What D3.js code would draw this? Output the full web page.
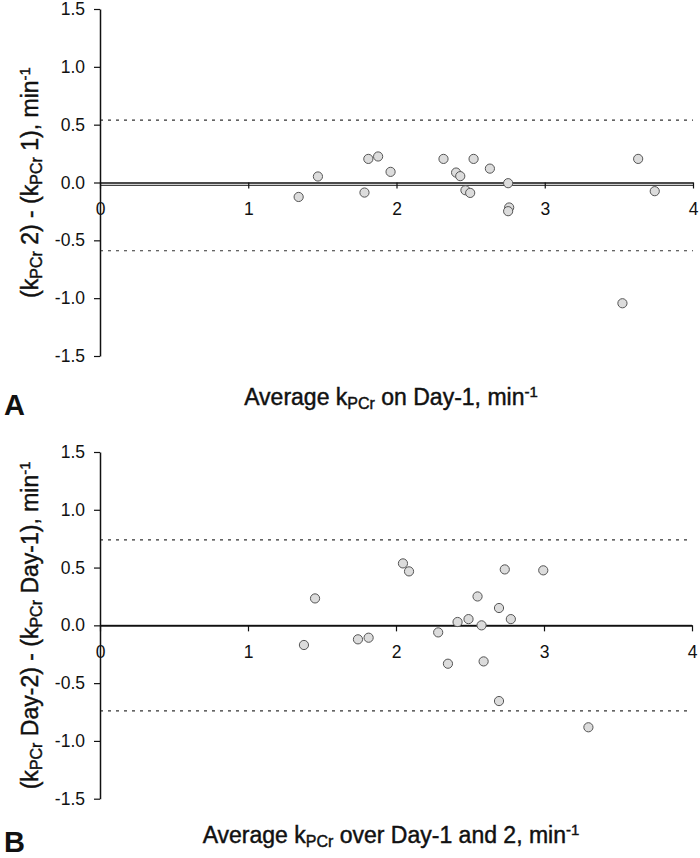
<!DOCTYPE html>
<html><head><meta charset="utf-8">
<script src="https://cdn.jsdelivr.net/npm/d3@7"></script>
<style>
html,body{margin:0;padding:0;background:#fff;}
svg{display:block;font-family:"Liberation Sans",Arial,sans-serif;}
</style></head>
<body>
<svg id="chart" width="700" height="858"></svg>
<script>
// ---- data ----
const xTicks = [0, 1, 2, 3, 4];
const yTicks = [-1.5, -1.0, -0.5, 0.0, 0.5, 1.0, 1.5];

// Panel A: average kPCr on Day-1 vs difference (kPCr 2 - kPCr 1)
const avgA  = [1.34, 1.47, 1.81, 1.876, 1.96, 1.784, 2.317, 2.402, 2.43, 2.52, 2.63, 2.465, 2.497, 2.753, 2.76, 2.753, 3.63, 3.742, 3.524];
const diffA = [-0.125, 0.052, 0.204, 0.225, 0.092, -0.087, 0.204, 0.086, 0.055, 0.204, 0.12, -0.067, -0.09, -0.006, -0.216, -0.248, 0.204, -0.075, -1.044];
const limitsA = [0.54, -0.59];
const meanA = -0.025;

// Panel B: average kPCr over Day-1 and 2 vs difference (Day-2 - Day-1)
const avgB  = [1.378, 1.453, 1.743, 1.815, 2.047, 2.088, 2.285, 2.351, 2.416, 2.49, 2.551, 2.578, 2.592, 2.696, 2.696, 2.735, 2.776, 2.995, 3.3];
const diffB = [-0.170, 0.233, -0.121, -0.107, 0.536, 0.467, -0.061, -0.332, 0.029, 0.054, 0.25, 0.0, -0.312, 0.150, -0.655, 0.484, 0.054, 0.476, -0.882];
const limitsB = [0.74, -0.74];
const meanB = 0.0;

const svg = d3.select("#chart");
const FONT = "Liberation Sans, Arial, sans-serif";

function addRich(textSel, parts) {
  parts.forEach(p => {
    const t = textSel.append("tspan").text(p.t);
    if (p.sub) t.attr("font-size", 16).attr("dy", 3.5);
    else if (p.sup) t.attr("font-size", 15).attr("dy", -8);
    if (p.back) t.attr("dy", p.back);
  });
}

function drawPanel(opt) {
  const x = d3.scaleLinear().domain([0, 4]).range([100, opt.right]);
  const y = d3.scaleLinear().domain([-1.5, 1.5]).range([opt.bottom, opt.top]);
  const g = svg.append("g");

  // limits of agreement (dotted)
  g.selectAll("line.loa").data(opt.limits).join("line")
    .attr("x1", x(0)).attr("x2", x(4))
    .attr("y1", d => y(d)).attr("y2", d => y(d))
    .attr("stroke", "#333").attr("stroke-width", 1.2)
    .attr("stroke-dasharray", "3,5");

  // mean difference line
  g.append("line")
    .attr("x1", x(0)).attr("x2", x(4))
    .attr("y1", y(opt.mean)).attr("y2", y(opt.mean))
    .attr("stroke", "#444").attr("stroke-width", 1.2);

  // y axis
  const yAxis = d3.axisLeft(y).tickValues(yTicks).tickFormat(d => d.toFixed(1))
    .tickSize(6).tickSizeOuter(0).tickPadding(9);
  const ya = g.append("g").attr("transform", `translate(${x(0)},0)`).call(yAxis);
  ya.select(".domain").attr("stroke", "#111").attr("stroke-width", 1.5);
  ya.selectAll(".tick line").attr("stroke", "#111").attr("stroke-width", 1.2);
  ya.selectAll(".tick text").attr("font-size", 17.5).attr("fill", "#111").attr("font-family", FONT);

  // x axis at y=0
  const xAxis = d3.axisBottom(x).tickValues(xTicks).tickFormat(d3.format("d"))
    .tickSize(6).tickSizeOuter(0).tickPadding(14.5);
  const xa = g.append("g").attr("transform", `translate(0,${y(0)})`).call(xAxis);
  xa.select(".domain").attr("stroke", "#111").attr("stroke-width", 1.6);
  xa.selectAll(".tick line").attr("stroke", "#111").attr("stroke-width", 1.2);
  xa.selectAll(".tick text").attr("font-size", 17.5).attr("fill", "#111").attr("font-family", FONT);

  // points
  g.selectAll("circle").data(opt.avg.map((v, i) => [v, opt.diff[i]])).join("circle")
    .attr("cx", d => x(d[0])).attr("cy", d => y(d[1])).attr("r", 4.6)
    .attr("fill", "#dcdcdc").attr("stroke", "#555").attr("stroke-width", 1);

  // y title
  const yt = g.append("text")
    .attr("transform", `translate(${opt.yTitleX},${y(0)}) rotate(-90)`)
    .attr("text-anchor", "middle").attr("font-size", 23)
    .attr("fill", "#111").attr("stroke", "#111").attr("stroke-width", 0.45);
  addRich(yt, opt.yTitle);

  // x title
  const xt = g.append("text")
    .attr("x", opt.xTitleX).attr("y", opt.xTitleY)
    .attr("text-anchor", "middle").attr("font-size", 23)
    .attr("fill", "#111").attr("stroke", "#111").attr("stroke-width", 0.45);
  addRich(xt, opt.xTitle);

  // panel letter
  g.append("text").attr("x", 4).attr("y", opt.letterY)
    .attr("font-size", 29).attr("font-weight", "bold").attr("fill", "#111")
    .text(opt.letter);
}

drawPanel({
  avg: avgA, diff: diffA, limits: limitsA, mean: meanA,
  right: 693, top: 9, bottom: 356,
  yTitleX: 38,
  yTitle: [{t: "(k"}, {t: "PCr", sub: true}, {t: " 2) - (k", back: -3.5}, {t: "PCr", sub: true}, {t: " 1), min", back: -3.5}, {t: "-1", sup: true}],
  xTitleX: 391, xTitleY: 405,
  xTitle: [{t: "Average k"}, {t: "PCr", sub: true}, {t: " on Day-1, min", back: -3.5}, {t: "-1", sup: true}],
  letter: "A", letterY: 415
});

drawPanel({
  avg: avgB, diff: diffB, limits: limitsB, mean: meanB,
  right: 692, top: 452, bottom: 798.7,
  yTitleX: 38,
  yTitle: [{t: "(k"}, {t: "PCr", sub: true}, {t: " Day-2) - (k", back: -3.5}, {t: "PCr", sub: true}, {t: " Day-1), min", back: -3.5}, {t: "-1", sup: true}],
  xTitleX: 391, xTitleY: 843,
  xTitle: [{t: "Average k"}, {t: "PCr", sub: true}, {t: " over Day-1 and 2, min", back: -3.5}, {t: "-1", sup: true}],
  letter: "B", letterY: 852
});
</script>
</body></html>
